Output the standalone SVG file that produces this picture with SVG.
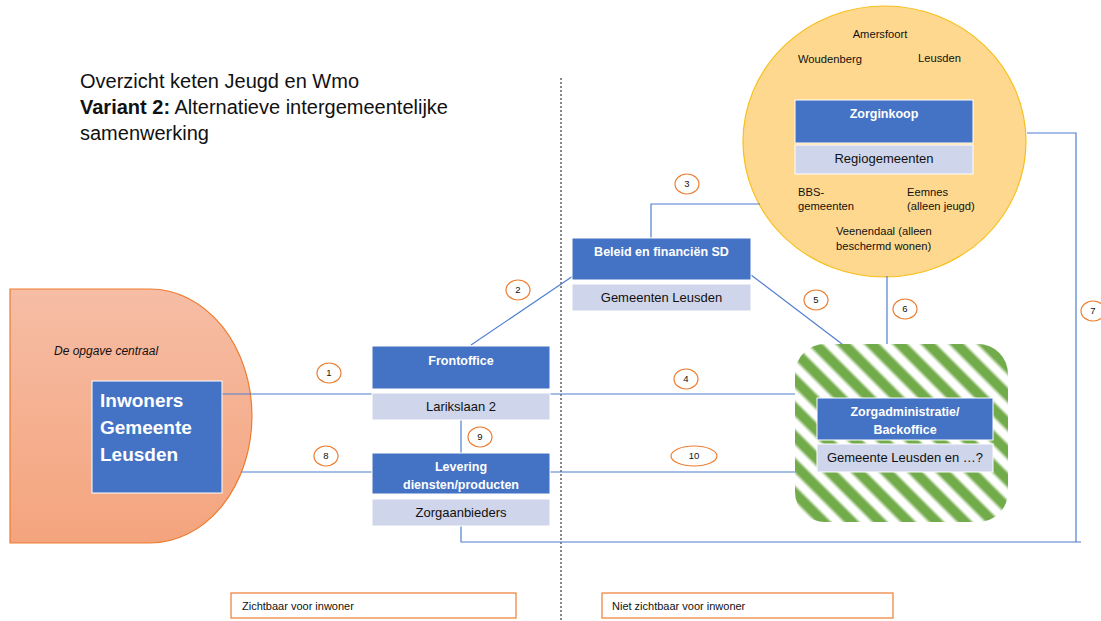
<svg xmlns="http://www.w3.org/2000/svg" width="1101" height="621" viewBox="0 0 1101 621">
<style>
text{font-family:"Liberation Sans",Arial,sans-serif}
.blue{fill:#4472c4;stroke:#fff;stroke-width:1}
.light{fill:#cfd5ea;stroke:#fff;stroke-width:1}
.wb{fill:#fff;font-weight:bold;text-anchor:middle;font-size:12.5px}
.dk{fill:#111;text-anchor:middle;font-size:13px}
.ct{fill:#111;font-size:11.2px}
.conn line,.conn polyline{stroke:#4f7fd0;stroke-width:1.2;fill:none}
.lbl ellipse{fill:#fff;stroke:#ed7d31;stroke-width:1.2}
.lbl text{font-size:9.5px;text-anchor:middle;fill:#111}
.leg{fill:#fff;stroke:#ed7d31;stroke-width:1.2}
</style>
<defs>
<linearGradient id="og" x1="0" y1="0" x2="0" y2="1">
<stop offset="0" stop-color="#f6bda5"/>
<stop offset="1" stop-color="#f4a47d"/>
</linearGradient>
<linearGradient id="sg" x1="0" y1="0" x2="0" y2="1">
<stop offset="0" stop-color="#ffffff"/>
<stop offset="0.15" stop-color="#72ab4a"/>
<stop offset="0.52" stop-color="#72ab4a"/>
<stop offset="0.7" stop-color="#ffffff"/>
<stop offset="1" stop-color="#ffffff"/>
</linearGradient>
<pattern id="stripes" patternUnits="userSpaceOnUse" width="20" height="20" patternTransform="rotate(45)">
<rect width="20" height="20" fill="url(#sg)"/>
</pattern>
</defs>
<rect width="1101" height="621" fill="#fff"/>

<g id="title">
<text x="80" y="88" font-size="20" fill="#111">Overzicht keten Jeugd en Wmo</text>
<text x="80" y="114" font-size="20" fill="#111"><tspan font-weight="bold">Variant 2:</tspan> Alternatieve intergemeentelijke</text>
<text x="80" y="140" font-size="20" fill="#111">samenwerking</text>
</g>

<g id="divider">
<line x1="561" y1="78" x2="561" y2="621" stroke="#111" stroke-width="1" stroke-dasharray="2,2"/>
</g>

<g id="opgave">
<path d="M10,289 H150 A102,127 0 0 1 150,543 H10 Z" fill="url(#og)" stroke="#ed7d31" stroke-width="1.2"/>
<text x="54" y="355" font-size="12" font-style="italic" fill="#111">De opgave centraal</text>
</g>

<g id="regio">
<ellipse cx="884.5" cy="141.5" rx="141.5" ry="135.5" fill="#fed88f" stroke="#f7bf1a" stroke-width="1.2"/>
</g>

<g id="backoffice-bg">
<rect x="795" y="344" width="213" height="178" rx="30" ry="30" fill="url(#stripes)"/>
</g>

<g class="conn" id="connectors">
<line x1="222" y1="394" x2="372" y2="394"/>
<line x1="550" y1="394" x2="795" y2="394"/>
<line x1="241" y1="472" x2="372" y2="472"/>
<line x1="550" y1="472" x2="795" y2="472"/>
<line x1="461" y1="420" x2="461" y2="453"/>
<line x1="471" y1="345" x2="573" y2="276"/>
<polyline points="651,238 651,204 760,204"/>
<line x1="751" y1="275" x2="842" y2="344"/>
<line x1="887" y1="276" x2="887" y2="344"/>
<polyline points="1027,133 1076,133 1076,542"/>
<polyline points="461,526 461,542 1081,542"/>
</g>

<g id="inwoners">
<rect x="92" y="381" width="130" height="112" class="blue" stroke-width="2"/>
<text x="100" y="407" font-size="19" font-weight="bold" fill="#fff">Inwoners</text>
<text x="100" y="434" font-size="19" font-weight="bold" fill="#fff">Gemeente</text>
<text x="100" y="461" font-size="19" font-weight="bold" fill="#fff">Leusden</text>
</g>

<g id="frontoffice">
<rect x="372" y="346" width="178" height="43" class="blue"/>
<text x="461" y="365" class="wb">Frontoffice</text>
<rect x="372" y="393" width="178" height="27" class="light"/>
<text x="461" y="411" class="dk">Larikslaan 2</text>
</g>

<g id="levering">
<rect x="372" y="453" width="178" height="41" class="blue"/>
<text x="461" y="471" class="wb">Levering</text>
<text x="461" y="489" class="wb">diensten/producten</text>
<rect x="372" y="499" width="178" height="27" class="light"/>
<text x="461" y="517" class="dk">Zorgaanbieders</text>
</g>

<g id="beleid">
<rect x="572" y="238" width="179" height="42" class="blue"/>
<text x="661.5" y="256" class="wb">Beleid en financiën SD</text>
<rect x="572" y="284" width="179" height="27" class="light"/>
<text x="661.5" y="302" class="dk">Gemeenten Leusden</text>
</g>

<g id="zorginkoop">
<rect x="795" y="100" width="178" height="43" class="blue"/>
<text x="884" y="118" class="wb">Zorginkoop</text>
<rect x="795" y="145" width="178" height="29" class="light"/>
<text x="884" y="163" class="dk">Regiogemeenten</text>
<text x="880" y="38" class="ct" text-anchor="middle">Amersfoort</text>
<text x="798" y="63" class="ct">Woudenberg</text>
<text x="918" y="62" class="ct">Leusden</text>
<text x="798" y="196" class="ct">BBS-</text>
<text x="798" y="210" class="ct">gemeenten</text>
<text x="907" y="196" class="ct">Eemnes</text>
<text x="907" y="210" class="ct">(alleen jeugd)</text>
<text x="836" y="235" class="ct">Veenendaal (alleen</text>
<text x="836" y="250" class="ct">beschermd wonen)</text>
</g>

<g id="backoffice">
<rect x="817" y="398" width="176" height="42" class="blue"/>
<text x="905" y="416" class="wb">Zorgadministratie/</text>
<text x="905" y="434" class="wb">Backoffice</text>
<rect x="817" y="444" width="176" height="28" class="light"/>
<text x="905" y="462" class="dk">Gemeente Leusden en …?</text>
</g>

<g class="lbl" id="labels">
<ellipse cx="329" cy="373" rx="12" ry="10"/><text x="329" y="376">1</text>
<ellipse cx="518" cy="290" rx="12" ry="10"/><text x="518" y="293">2</text>
<ellipse cx="687" cy="184" rx="12" ry="10"/><text x="687" y="187">3</text>
<ellipse cx="686" cy="379" rx="12" ry="10"/><text x="686" y="382">4</text>
<ellipse cx="816" cy="300" rx="12" ry="10"/><text x="816" y="303">5</text>
<ellipse cx="905" cy="309" rx="12" ry="10"/><text x="905" y="312">6</text>
<ellipse cx="1093" cy="311" rx="12" ry="10"/><text x="1093" y="314">7</text>
<ellipse cx="326" cy="456" rx="12" ry="10"/><text x="326" y="459">8</text>
<ellipse cx="480" cy="437" rx="12" ry="10"/><text x="480" y="440">9</text>
<ellipse cx="694" cy="456" rx="23" ry="10"/><text x="694" y="459">10</text>
</g>

<g id="legend-zichtbaar">
<rect x="231" y="593" width="285" height="25" class="leg"/>
<text x="242" y="610" font-size="11" fill="#111">Zichtbaar voor inwoner</text>
</g>
<g id="legend-niet">
<rect x="602" y="593" width="291" height="25" class="leg"/>
<text x="612" y="610" font-size="11" fill="#111">Niet zichtbaar voor inwoner</text>
</g>
</svg>
